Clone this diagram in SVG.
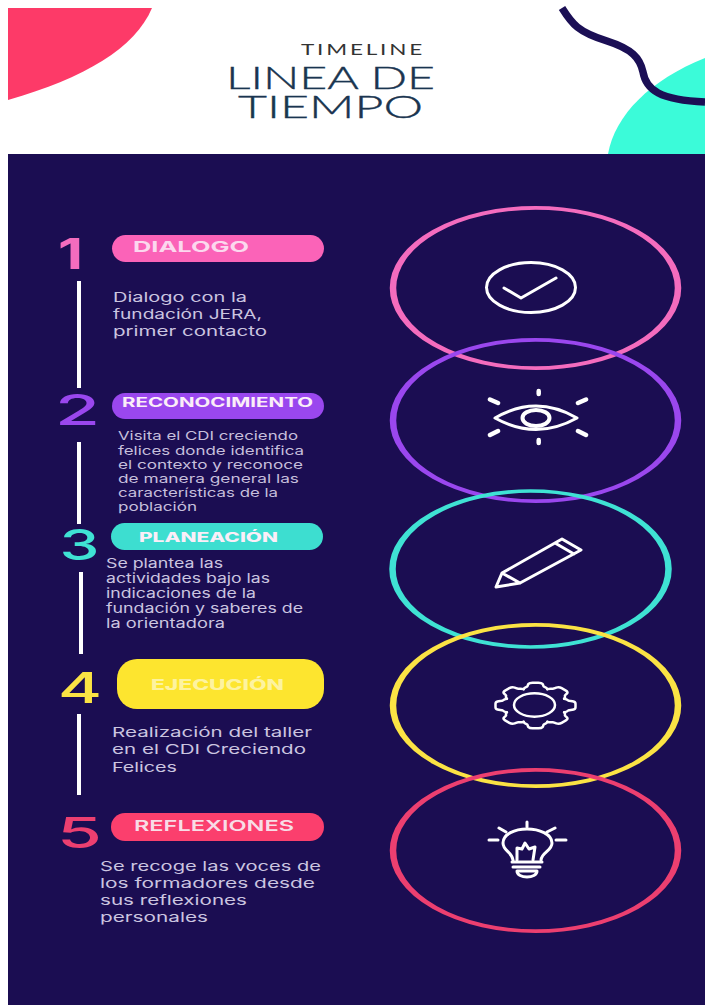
<svg xmlns="http://www.w3.org/2000/svg" width="705" height="1005" viewBox="0 0 705 1005">
<style>
text{font-family:Inter,"Open Sans","Liberation Sans",sans-serif}
.num{font-size:42px;font-weight:500}
.pill{font-size:13px;font-weight:700;fill:#fbeef8}
.body{font-size:13.5px;fill:#cbc5e0}
.small{font-size:12px;fill:#c6bfdc}
.ring{fill:none;stroke-width:6.5}
.ic{fill:none;stroke:#fff;stroke-width:3;stroke-linejoin:round;stroke-linecap:round}
.tt{font-family:Lato,"Liberation Sans",sans-serif;fill:#1a3550;stroke:#1a3550;stroke-width:.35;font-size:31px;font-weight:300}
.conn{stroke:#fff;stroke-width:4}
</style>
<defs>
<path id="tooth" vector-effect="non-scaling-stroke" d="M28.6 -11.9C31 -11.5 32 -10 33 -8.5C34 -7.5 36 -8 38 -7Q40 -6 40 -3V3Q40 6 38 7C36 8 34 7.5 33 8.5C32 10 31 11.5 28.6 11.9"/>
</defs>
<rect width="705" height="1005" fill="#fff"/>
<g id="header">
<path d="M8 8H152C135 48 85 78 8 100Z" fill="#fd3a68"/>
<path d="M608 154C615 115 650 80 705 58V154Z" fill="#3bfbd9"/>
<path d="M562 8C572 24 578 32 607 41C632 49 640 58 643 72C646 90 660 100 705 102" fill="none" stroke="#1b0f55" stroke-width="7.5"/>
<text x="301" y="55" textLength="124" lengthAdjust="spacingAndGlyphs" fill="#333" style="font-family:Lato,'Liberation Sans',sans-serif;font-weight:400;font-size:16px;letter-spacing:2px">TIMELINE</text>
<text class="tt" x="226" y="89" textLength="209" lengthAdjust="spacingAndGlyphs">LINEA DE</text>
<text class="tt" x="238" y="118" textLength="185" lengthAdjust="spacingAndGlyphs">TIEMPO</text>
</g>
<rect id="panel" x="8" y="154" width="697" height="851" fill="#1b0d52"/>
<g id="connectors">
<line class="conn" x1="79" y1="281" x2="79" y2="388"/>
<line class="conn" x1="79" y1="442" x2="79" y2="524"/>
<line class="conn" x1="81" y1="572" x2="81" y2="654"/>
<line class="conn" x1="79" y1="714" x2="79" y2="795"/>
</g>
<g id="ring-1"><circle class="ring" stroke="#f46cbe" r="142.5" transform="translate(535.5 288) scale(1 .562)"/></g>
<g id="ring-2"><circle class="ring" stroke="#9a47ee" r="142.5" transform="translate(535.5 420.5) scale(1 .566)"/></g>
<g id="ring-3"><circle class="ring" stroke="#3fe2d4" r="138" transform="translate(530.5 569) scale(1 .565)"/></g>
<g id="ring-4"><circle class="ring" stroke="#fbe344" r="142.5" transform="translate(535.5 705.5) scale(1 .566)"/></g>
<g id="ring-5"><circle class="ring" stroke="#ec3f70" r="142.5" transform="translate(535.5 850.5) scale(1 .566)"/></g>
<g id="step-1">
<text class="num" x="58" y="269" fill="#f46cbe" textLength="25" lengthAdjust="spacingAndGlyphs" style="font-weight:700">1</text>
<rect x="112" y="235" width="212" height="27" rx="13.5" fill="#fb63b8"/>
<text class="pill" x="133" y="252" style="font-size:15px" textLength="116" lengthAdjust="spacingAndGlyphs" fill-opacity=".85">DIALOGO</text>
<text class="body" x="113" y="302" textLength="134" lengthAdjust="spacingAndGlyphs">Dialogo con la</text>
<text class="body" x="113" y="319" textLength="149" lengthAdjust="spacingAndGlyphs">fundación JERA,</text>
<text class="body" x="113" y="336" textLength="154" lengthAdjust="spacingAndGlyphs">primer contacto</text>
<ellipse class="ic" cx="531" cy="287.5" rx="44.5" ry="25"/>
<path class="ic" d="M504 288L521 298L556 278"/>
</g>
<g id="step-2">
<text class="num" x="55" y="425" fill="#9a47ee" textLength="45" lengthAdjust="spacingAndGlyphs">2</text>
<rect x="112" y="393" width="212" height="26" rx="13" fill="#9a47ee"/>
<text class="pill" x="122" y="407" textLength="191" lengthAdjust="spacingAndGlyphs">RECONOCIMIENTO</text>
<text class="small" x="118" y="440" textLength="180" lengthAdjust="spacingAndGlyphs">Visita el CDI creciendo</text>
<text class="small" x="118" y="455" textLength="186" lengthAdjust="spacingAndGlyphs">felices donde identifica</text>
<text class="small" x="118" y="469" textLength="185" lengthAdjust="spacingAndGlyphs">el contexto y reconoce</text>
<text class="small" x="118" y="483" textLength="181" lengthAdjust="spacingAndGlyphs">de manera general las</text>
<text class="small" x="118" y="497" textLength="160" lengthAdjust="spacingAndGlyphs">características de la</text>
<text class="small" x="118" y="511" textLength="79" lengthAdjust="spacingAndGlyphs">población</text>
<path class="ic" d="M495 418Q536 394 577 418Q536 441 495 418Z"/>
<ellipse class="ic" cx="536" cy="418" rx="13.5" ry="8" style="stroke-width:4"/>
<path class="ic" style="stroke-width:4.5" d="M538.7 391V394M538.7 440V443M490 399.5L498 403M578 403L586 399.5M490 435L498 431M578 431L586 435"/>
</g>
<g id="step-3">
<text class="num" x="59.5" y="560" fill="#3fe2d4" textLength="40" lengthAdjust="spacingAndGlyphs">3</text>
<rect x="111" y="523" width="212" height="27" rx="13.5" fill="#3dded0"/>
<text class="pill" x="139" y="542" textLength="139" lengthAdjust="spacingAndGlyphs" style="font-weight:800">PLANEACIÓN</text>
<text class="body" x="106" y="568" textLength="117" lengthAdjust="spacingAndGlyphs" style="font-size:13px">Se plantea las</text>
<text class="body" x="106" y="583" textLength="164" lengthAdjust="spacingAndGlyphs" style="font-size:13px">actividades bajo las</text>
<text class="body" x="106" y="598" textLength="150" lengthAdjust="spacingAndGlyphs" style="font-size:13px">indicaciones de la</text>
<text class="body" x="106" y="613" textLength="197" lengthAdjust="spacingAndGlyphs" style="font-size:13px">fundación y saberes de</text>
<text class="body" x="106" y="628" textLength="119" lengthAdjust="spacingAndGlyphs" style="font-size:13px">la orientadora</text>
<path class="ic" d="M496 587L502 573L562 539L581 550L520 583ZM555 543L574 554M502 573L520 583"/>
</g>
<g id="step-4">
<text class="num" x="58" y="703" fill="#fbe344" textLength="44" lengthAdjust="spacingAndGlyphs">4</text>
<rect x="117" y="659" width="207" height="50" rx="20" fill="#fde52f"/>
<text class="pill" x="151" y="690" textLength="133" lengthAdjust="spacingAndGlyphs" style="font-size:14px;font-weight:800;fill:#fdf3a0">EJECUCIÓN</text>
<text class="body" x="112" y="737" textLength="200" lengthAdjust="spacingAndGlyphs">Realización del taller</text>
<text class="body" x="112" y="754" textLength="194" lengthAdjust="spacingAndGlyphs">en el CDI Creciendo</text>
<text class="body" x="112" y="772" textLength="65" lengthAdjust="spacingAndGlyphs">Felices</text>
<g class="ic" style="stroke-width:2.5" transform="translate(535.5 705.5) scale(1 .57)">
<use href="#tooth"/><use href="#tooth" transform="rotate(45)"/><use href="#tooth" transform="rotate(90)"/><use href="#tooth" transform="rotate(135)"/><use href="#tooth" transform="rotate(180)"/><use href="#tooth" transform="rotate(225)"/><use href="#tooth" transform="rotate(270)"/><use href="#tooth" transform="rotate(315)"/>
</g>
<ellipse class="ic" cx="534.5" cy="705" rx="20.5" ry="11.7" style="stroke-width:2.5"/>
</g>
<g id="step-5">
<text class="num" x="57" y="848" fill="#ec3f70" textLength="45" lengthAdjust="spacingAndGlyphs">5</text>
<rect x="111" y="813" width="213" height="28" rx="14" fill="#fb3f6d"/>
<text class="pill" x="134" y="831" textLength="160" lengthAdjust="spacingAndGlyphs" style="font-size:15px;font-weight:600;fill:#f8dde6">REFLEXIONES</text>
<text class="body" x="100" y="871" textLength="221" lengthAdjust="spacingAndGlyphs">Se recoge las voces de</text>
<text class="body" x="100" y="888" textLength="215" lengthAdjust="spacingAndGlyphs">los formadores desde</text>
<text class="body" x="100" y="905" textLength="147" lengthAdjust="spacingAndGlyphs">sus reflexiones</text>
<text class="body" x="100" y="922" textLength="108" lengthAdjust="spacingAndGlyphs">personales</text>
<path class="ic" d="M527 822V827M499 828L506 832M547 832L555 828M489 840H498M556 840H566"/>
<path class="ic" d="M513 860C512 852 503 851 503 843C503 834 515 829 527 829C539 829 552 834 552 843C552 851 542 852 541 860"/>
<path class="ic" d="M517 860V848L522 849L525 843L529 849L535 847L533 860"/>
<path class="ic" d="M512 862H542M513 867H540M517 871H537C537 875 532 877 527 877C522 877 517 875 517 871Z"/>
</g>
</svg>
